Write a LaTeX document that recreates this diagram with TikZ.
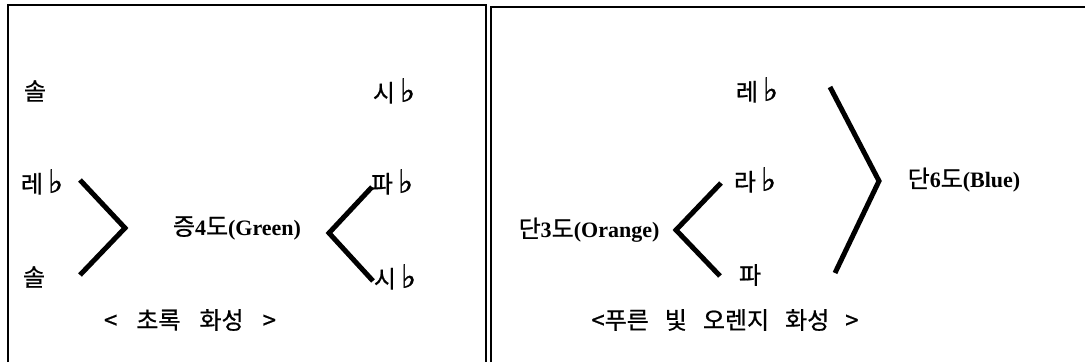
\documentclass[tikz,border=0pt]{standalone}
\usepackage{fontspec}
\setmainfont{Liberation Serif}
\newfontfamily\kr{Noto Sans CJK KR}[FakeBold=0.8]
\newfontfamily\sym{DejaVu Sans}[FakeBold=1.2]
\newcommand{\fl}{\hspace{5pt}{\sym\fontsize{32}{32}\selectfont ♭}}
\newcommand{\kor}[1]{{\normalfont\kr\fontsize{24}{28}\selectfont #1}}
\tikzset{
  tone/.style={font=\kr\fontsize{24}{28}\selectfont, inner sep=0pt},
  interval/.style={font=\fontsize{22}{26}\selectfont\bfseries, inner sep=0pt},
  frameline/.style={line width=2.5pt},
  bracket/.style={line width=5pt},
}
\begin{document}
\begin{tikzpicture}[x=1pt, y=-1pt]
  \useasboundingbox (0,0) rectangle (1085,362);
  % two panels, open at the bottom
  \draw[frameline] (8,362) -- (8,5) -- (486,5) -- (486,362);
  \draw[frameline] (491,362) -- (491,7) -- (1090,7);

  % Green panel
  \node[tone] (sol1) at (35,91) {솔};
  \node[tone] (reb) at (42,182) {레\fl};
  \node[tone] (sol2) at (34,277) {솔};
  \node[tone] (sib1) at (394,91) {시\fl};
  \node[tone] (fab) at (392,182) {파\fl};
  \node[tone] (sib2) at (395,277) {시\fl};
  \node[interval] (green) at (237,228) {\kor{증}4\kor{도}(Green)};
  \node[tone] (capgreen) at (190,320) {<\hspace{19pt}초록\hspace{19pt}화성\hspace{19pt}>};
  \coordinate (g1) at (80,180);  \coordinate (g2) at (125,228);  \coordinate (g3) at (80,275);
  \coordinate (h1) at (372,187); \coordinate (h2) at (329,233);  \coordinate (h3) at (373,281);
  \draw[bracket] (g1) -- (g2) -- (g3);
  \draw[bracket] (h1) -- (h2) -- (h3);

  % Blue and Orange panel
  \node[tone] (reb2) at (757,90) {레\fl};
  \node[tone] (lab) at (755,180) {라\fl};
  \node[tone] (fa) at (750,275) {파};
  \node[interval] (orange) at (589,230) {\kor{단}3\kor{도}(Orange)};
  \node[interval] (blue) at (964,180) {\kor{단}6\kor{도}(Blue)};
  \node[tone] (capblue) at (725,320) {<푸른\hspace{16pt}빛\hspace{16pt}오렌지\hspace{16pt}화성\hspace{16pt}>};
  \coordinate (o1) at (721,183); \coordinate (o2) at (676,230); \coordinate (o3) at (720,276);
  \coordinate (b1) at (830,87);  \coordinate (b2) at (879,181); \coordinate (b3) at (835,273);
  \draw[bracket] (o1) -- (o2) -- (o3);
  \draw[bracket] (b1) -- (b2) -- (b3);
\end{tikzpicture}
\end{document}
